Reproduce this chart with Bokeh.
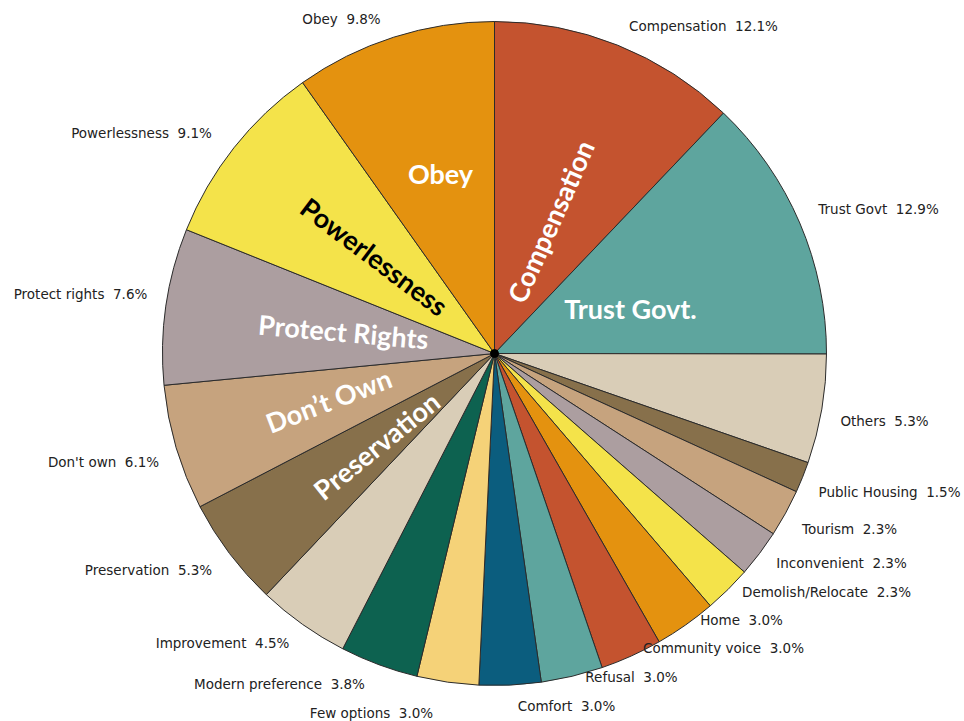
import math
from bokeh.plotting import figure
from bokeh.models import ColumnDataSource, Range1d
from bokeh.core.properties import value
from bokeh.embed import file_html
from bokeh.resources import INLINE

# ---- data (clockwise from 12 o'clock) ----
categories = ["Compensation", "Trust Govt", "Others", "Public Housing", "Tourism",
              "Inconvenient", "Demolish/Relocate", "Home", "Community voice", "Refusal",
              "Comfort", "Few options", "Modern preference", "Improvement", "Preservation",
              "Don't own", "Protect rights", "Powerlessness", "Obey"]
percents = [12.1, 12.9, 5.3, 1.5, 2.3, 2.3, 2.3, 3.0, 3.0, 3.0,
            3.0, 3.0, 3.8, 4.5, 5.3, 6.1, 7.6, 9.1, 9.8]
colors = ["#C4532F", "#5EA59E", "#D9CDB7", "#87704B", "#C6A37E",
          "#AC9EA0", "#F4E34A", "#E4920F", "#C4532F", "#5EA59E",
          "#0B5D7E", "#F5D278", "#0D6250", "#D9CDB7", "#87704B",
          "#C6A37E", "#AC9EA0", "#F4E34A", "#E4920F"]

# big in-slice labels
big_labels = ["Compensation", "Trust Govt.", "Obey", "Powerlessness",
              "Protect Rights", "Don\u2019t Own", "Preservation"]
big_colors = ["white", "white", "white", "black", "white", "white", "white"]

# ---- layout (page pixels) ----
W, H = 964, 721
def px(X): return X
def py(Y): return H - Y

CX, CY, R = px(494), py(353), 332

# outer label centres (page pixel coords), same order as categories
label_xy = [(703, 25), (878, 208), (884, 420), (889, 491), (849, 528),
            (841, 562), (826, 591), (741, 619), (723, 647), (631, 676),
            (566, 705), (371, 712), (279, 683), (222, 642), (148, 569),
            (103, 461), (80, 293), (141, 132), (341, 18)]
big_xy = [(550, 221), (630, 308), (440, 173), (374, 256), (343, 331), (328, 400), (376, 445)]
big_angle_deg = [66, 0, 0, -37, -5, 21, 39]

total = sum(percents)
starts, ends = [], []
cum = 0.0
for v in percents:
    a0 = math.pi / 2 - 2 * math.pi * cum / total
    cum += v
    a1 = math.pi / 2 - 2 * math.pi * cum / total
    starts.append(a1)
    ends.append(a0)

src = ColumnDataSource(dict(start=starts, end=ends, color=colors, cat=categories))

p = figure(width=W, height=H, x_range=Range1d(0, W), y_range=Range1d(0, H),
           output_backend="svg", toolbar_location=None, min_border=0)
p.axis.visible = False
p.grid.visible = False
p.outline_line_color = None
p.background_fill_color = "white"

p.wedge(x=CX, y=CY, radius=R, start_angle="start", end_angle="end",
        fill_color="color", line_color="#2b2b2b", line_width=1, source=src)
p.scatter(x=[CX], y=[CY], size=8, color="black")

NB = "\u00a0"
lab_src = ColumnDataSource(dict(
    x=[px(a) for a, b in label_xy], y=[py(b) for a, b in label_xy],
    text=[f"{c}{NB}{NB}{v:.1f}%" for c, v in zip(categories, percents)]))
p.text(x="x", y="y", text="text", source=lab_src, text_align="center",
       text_baseline="middle", text_font=value("DejaVu Sans"),
       text_font_size="13.5px", text_color="#222222")

big_src = ColumnDataSource(dict(
    x=[px(a) for a, b in big_xy], y=[py(b) for a, b in big_xy],
    text=big_labels, color=big_colors,
    angle=[math.radians(a) for a in big_angle_deg]))
p.text(x="x", y="y", text="text", angle="angle", source=big_src,
       text_align="center", text_baseline="middle", text_font=value("Lato"),
       text_font_style="bold", text_font_size="27px", text_color="color")

open("out.html", "w").write(file_html(p, INLINE))
